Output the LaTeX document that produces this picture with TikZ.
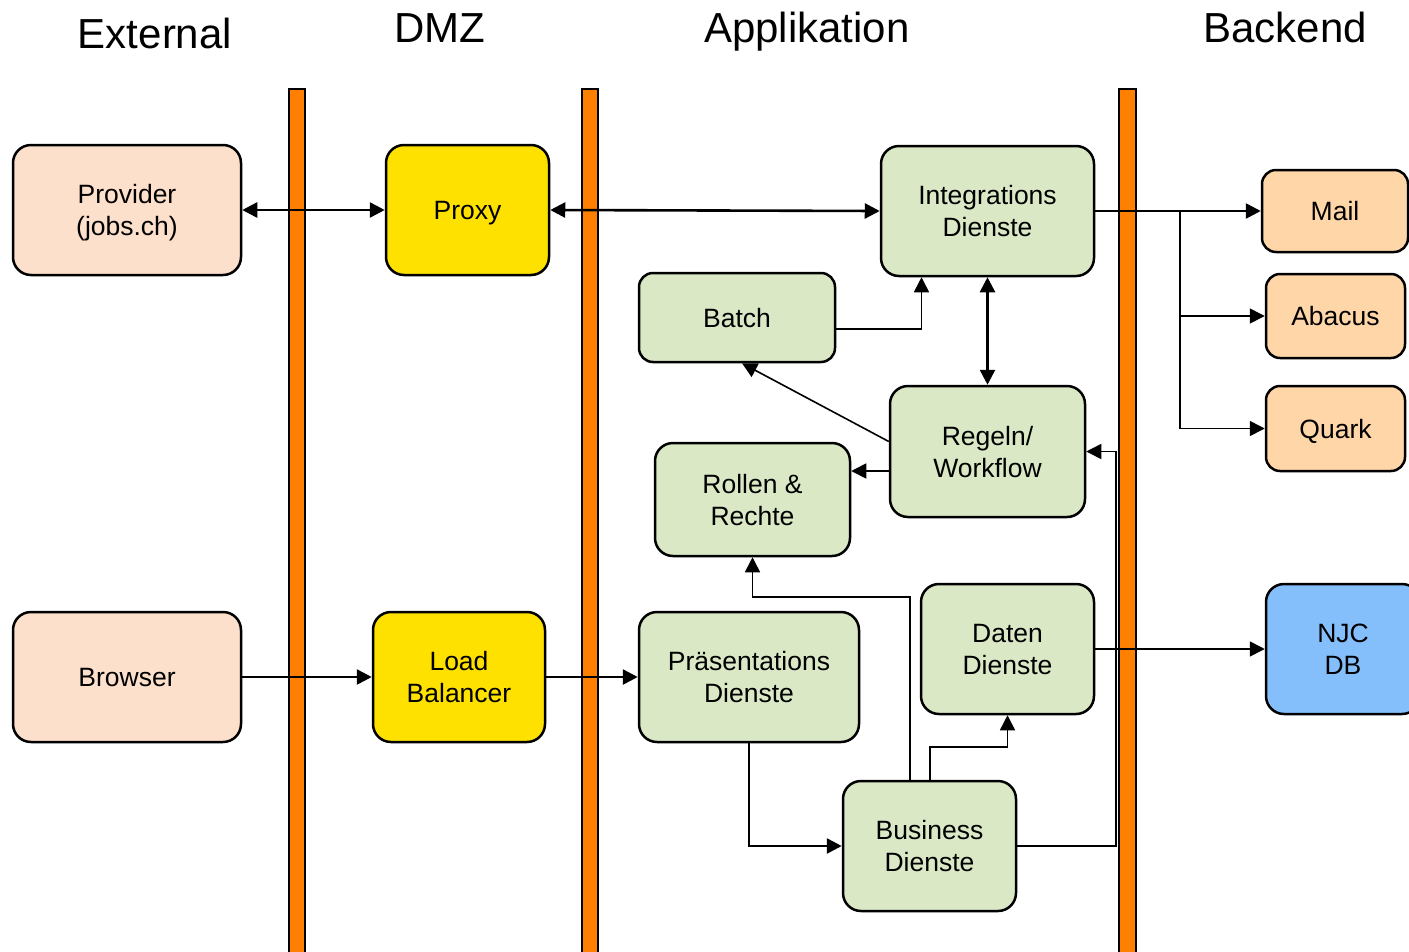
\documentclass[tikz,border=0pt]{standalone}
\usepackage{fontspec}
\setmainfont{Liberation Sans}
\usetikzlibrary{arrows.meta}
\definecolor{peach}{HTML}{FDE0CB}
\definecolor{lorange}{HTML}{FFD6A8}
\definecolor{yel}{HTML}{FFE100}
\definecolor{grn}{HTML}{DAE8C6}
\definecolor{blu}{HTML}{85BFFB}
\definecolor{barorange}{HTML}{FF7F00}
\tikzset{
  box/.style={draw=black, line width=2.5pt, rounded corners=18pt, align=center,
    font=\fontsize{26.5}{32}\selectfont, inner sep=0pt, text depth=0pt},
  thickc/.style={line width=2.6pt, draw=black},
  thinc/.style={line width=1.6pt, draw=black},
  tip/.style={-{Triangle[length=15pt,width=15pt]}},
  tips/.style={{Triangle[length=15pt,width=15pt]}-{Triangle[length=15pt,width=15pt]}},
  title/.style={anchor=base, font=\fontsize{42}{50}\selectfont},
  bar/.style={fill=barorange, draw=black, line width=2pt}
}
\begin{document}
\begin{tikzpicture}[x=1pt,y=-1pt]
\useasboundingbox (0,0) rectangle (1409,951);
% titles
\node[title] (tExt) at (155,48) {External};
\node[title] (tDmz) at (440,42) {DMZ};
\node[title] (tApp) at (807,42) {Applikation};
\node[title] (tBack) at (1285,42) {Backend};
% bars
\draw[bar] (289,89) rectangle (305,965);
\draw[bar] (582,89) rectangle (598,965);
\draw[bar] (1119,89) rectangle (1136,965);
% nodes
\node[box, fill=peach, minimum width=228pt, minimum height=130pt] (Provider) at (127,210) {Provider\\(jobs.ch)};
\node[box, fill=yel, minimum width=163pt, minimum height=130pt] (Proxy) at (467.5,210) {Proxy};
\node[box, fill=grn, minimum width=213pt, minimum height=130pt] (Integ) at (987.5,211) {Integrations\\Dienste};
\node[box, fill=lorange, minimum width=146pt, minimum height=82pt, rounded corners=14pt] (Mail) at (1335,211) {Mail};
\node[box, fill=lorange, minimum width=139pt, minimum height=84pt, rounded corners=14pt] (Abacus) at (1335.5,316) {Abacus};
\node[box, fill=lorange, minimum width=139pt, minimum height=85pt, rounded corners=14pt] (Quark) at (1335.5,428.5) {Quark};
\node[box, fill=grn, minimum width=196pt, minimum height=89pt, rounded corners=14pt] (Batch) at (737,317.5) {Batch};
\node[box, fill=grn, minimum width=195pt, minimum height=131pt] (Regeln) at (987.5,451.5) {Regeln/\\Workflow};
\node[box, fill=grn, minimum width=195pt, minimum height=113pt] (Rollen) at (752.5,499.5) {Rollen \&\\Rechte};
\node[box, fill=grn, minimum width=173pt, minimum height=130pt] (Daten) at (1007.5,649) {Daten\\Dienste};
\node[box, fill=blu, minimum width=154pt, minimum height=130pt] (NJC) at (1343,649) {NJC\\DB};
\node[box, fill=peach, minimum width=228pt, minimum height=130pt] (Browser) at (127,677) {Browser};
\node[box, fill=yel, minimum width=172pt, minimum height=130pt] (LB) at (459,677) {Load\\Balancer};
\node[box, fill=grn, minimum width=220pt, minimum height=130pt] (Praes) at (749,677) {Präsentations\\Dienste};
\node[box, fill=grn, minimum width=173pt, minimum height=130pt] (Business) at (929.5,846) {Business\\Dienste};
% connectors
\draw[thickc, tips] (Provider.east) -- (Proxy.west);
\draw[thickc, tips] (Proxy.east) -- (Integ.west);
\draw[thickc, tip] (Integ.east) -- (Mail.west);
\draw[thinc, tip] ([xshift=85pt]Integ.east) |- (Abacus.west);
\draw[thinc, tip] ([xshift=85pt]Integ.east) |- (Quark.west);
\draw[thinc, tip] ([yshift=-11.5pt]Batch.east) -| ([xshift=-66pt]Integ.south);
\draw[thickc, tips] (Integ.south) -- (Regeln.north);
\draw[thinc, tip] ([yshift=10pt]Regeln.west) -- ([xshift=5pt]Batch.south);
\draw[thinc, tip] ([yshift=-19.5pt]Regeln.west) -- ([yshift=-19.5pt]Regeln.west -| Rollen.east);
\draw[thinc, tip] ([xshift=-19.5pt]Business.north) -- ++(0,-183) -| (Rollen.south);
\draw[thinc, tip] ([xshift=0.5pt]Business.north) -- ++(0,-33) -| (Daten.south);
\draw[thinc, tip] (Business.east) -- ++(99,0) |- (Regeln.east);
\draw[thinc, tip] (Daten.east) -- (NJC.west);
\draw[thickc, tip] (Browser.east) -- (LB.west);
\draw[thickc, tip] (LB.east) -- (Praes.west);
\draw[thickc, tip] (Praes.south) |- (Business.west);
\end{tikzpicture}
\end{document}
